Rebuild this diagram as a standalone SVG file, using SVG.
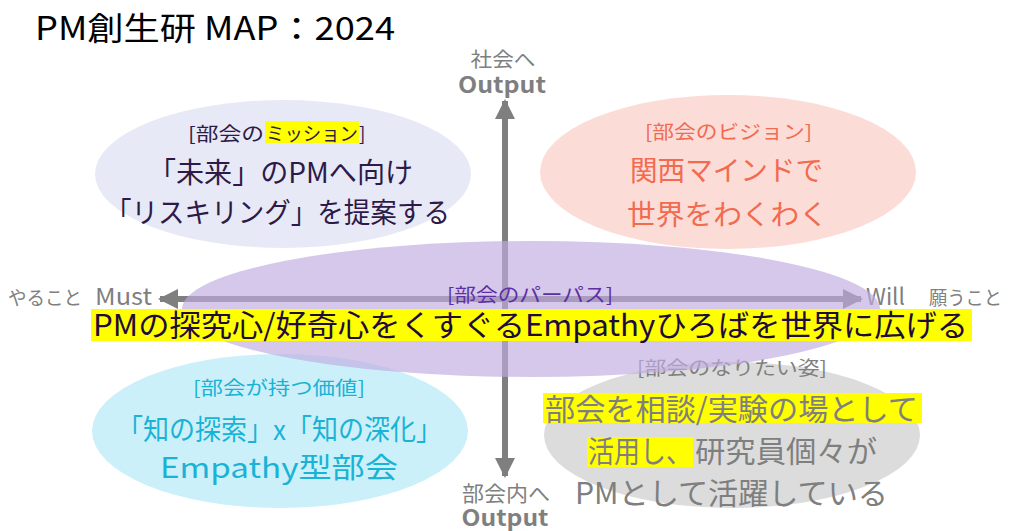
<svg xmlns="http://www.w3.org/2000/svg" width="1024" height="531" viewBox="0 0 1024 531">
<style>
text{font-family:"Noto Sans CJK JP","Noto Sans",sans-serif;}
.ax{fill:#7f7f7f;}
.axb{fill:#7f7f7f;font-weight:bold;}
.t19{font-size:19px;}
.t28{font-size:28px;}
.t30{font-size:30px;}
.hl{fill:#ffff00;}
.mis{fill:#2d1a48;}
.vis{fill:#f26a4f;}
.val{fill:#1ab3d6;}
.asp{fill:#7f7f7f;}
.pur{fill:#5d2fa3;}
.main{fill:#1e0c3e;}
</style>
<defs>
<marker id="ah" viewBox="0 0 10 10" refX="9" refY="5" markerWidth="3.4" markerHeight="3.4" orient="auto" markerUnits="strokeWidth">
<path d="M0,0 L10,5 L0,10 Z" fill="#7f7f7f"/>
</marker>
</defs>
<rect width="1024" height="531" fill="#ffffff"/>
<text id="title" x="35" y="40" font-size="32" fill="#000" textLength="360" lengthAdjust="spacingAndGlyphs">PM創生研 MAP：2024</text>

<g id="connectors">
<line x1="505" y1="288" x2="505" y2="101" stroke="#7f7f7f" stroke-width="6" marker-end="url(#ah)"/>
<line x1="505" y1="288" x2="505" y2="476" stroke="#7f7f7f" stroke-width="6" marker-end="url(#ah)"/>
<line x1="510" y1="299" x2="160" y2="299" stroke="#7f7f7f" stroke-width="6" marker-end="url(#ah)"/>
<line x1="500" y1="299" x2="861" y2="299" stroke="#7f7f7f" stroke-width="6" marker-end="url(#ah)"/>
</g>

<g id="axis-labels">
<text class="ax" x="503" y="67" font-size="20" text-anchor="middle" textLength="65" lengthAdjust="spacingAndGlyphs">社会へ</text>
<text class="axb" x="502" y="93" font-size="22" text-anchor="middle" textLength="88" lengthAdjust="spacingAndGlyphs">Output</text>
<text class="ax" x="506" y="501" font-size="21" text-anchor="middle" textLength="88" lengthAdjust="spacingAndGlyphs">部会内へ</text>
<text class="axb" x="505" y="526" font-size="22" text-anchor="middle" textLength="87" lengthAdjust="spacingAndGlyphs">Output</text>
<text class="ax" x="8" y="305" font-size="19" textLength="74" lengthAdjust="spacingAndGlyphs">やること</text>
<text class="ax" x="95" y="305" font-size="23" textLength="57" lengthAdjust="spacingAndGlyphs">Must</text>
<text class="ax" x="866" y="305" font-size="23" textLength="39" lengthAdjust="spacingAndGlyphs">Will</text>
<text class="ax" x="929" y="305" font-size="19" textLength="73" lengthAdjust="spacingAndGlyphs">願うこと</text>
</g>

<g id="mission">
<ellipse cx="283" cy="174" rx="188" ry="74" fill="#e8e9f6"/>
<rect class="hl" x="265" y="121" width="94" height="22"/>
<text class="mis t19" y="141"><tspan x="188" textLength="76" lengthAdjust="spacingAndGlyphs">[部会の</tspan><tspan x="266" textLength="92" lengthAdjust="spacingAndGlyphs">ミッション</tspan><tspan x="359">]</tspan></text>
<text class="mis t28" x="148" y="183" textLength="265" lengthAdjust="spacingAndGlyphs">「未来」のPMへ向け</text>
<text class="mis t28" x="105" y="223" textLength="345" lengthAdjust="spacingAndGlyphs">「リスキリング」を提案する</text>
</g>

<g id="vision">
<ellipse cx="728" cy="172" rx="188" ry="77" fill="#fcdcd7"/>
<text class="vis t19" x="645" y="139" textLength="167" lengthAdjust="spacingAndGlyphs">[部会のビジョン]</text>
<text class="vis t28" x="630" y="181" textLength="193" lengthAdjust="spacingAndGlyphs">関西マインドで</text>
<text class="vis t28" x="627" y="225" textLength="201" lengthAdjust="spacingAndGlyphs">世界をわくわく</text>
</g>

<g id="value">
<ellipse cx="280" cy="431" rx="188" ry="77" fill="#ccf0f9"/>
<text class="val t19" x="193" y="395" textLength="172" lengthAdjust="spacingAndGlyphs">[部会が持つ価値]</text>
<text class="val t28" x="117" y="440" textLength="325" lengthAdjust="spacingAndGlyphs">「知の探索」x「知の深化」</text>
<text class="val t28" x="160" y="478" textLength="238" lengthAdjust="spacingAndGlyphs">Empathy型部会</text>
</g>

<g id="aspiration">
<ellipse cx="732" cy="435" rx="188" ry="73" fill="#dcdcdc"/>
<text class="asp t19" x="637" y="375" textLength="190" lengthAdjust="spacingAndGlyphs">[部会のなりたい姿]</text>
<rect class="hl" x="543" y="393" width="379" height="30"/>
<text class="asp t30" x="545" y="420" textLength="373" lengthAdjust="spacingAndGlyphs">部会を相談/実験の場として</text>
<rect class="hl" x="587" y="437" width="106" height="30"/>
<text class="asp t30" y="462"><tspan x="588" textLength="104" lengthAdjust="spacingAndGlyphs">活用し、</tspan><tspan x="695" textLength="182" lengthAdjust="spacingAndGlyphs">研究員個々が</tspan></text>
<text class="asp t30" x="575" y="504" textLength="313" lengthAdjust="spacingAndGlyphs">PMとして活躍している</text>
</g>

<g id="purpose">
<ellipse cx="531" cy="309" rx="349" ry="68" fill="#bface1" fill-opacity="0.66"/>
<text class="pur t19" x="447" y="302" textLength="166" lengthAdjust="spacingAndGlyphs">[部会のパーパス]</text>
<rect class="hl" x="91" y="309" width="881" height="32"/>
<text class="main t30" x="93" y="336" textLength="875" lengthAdjust="spacingAndGlyphs">PMの探究心/好奇心をくすぐるEmpathyひろばを世界に広げる</text>
</g>
</svg>
